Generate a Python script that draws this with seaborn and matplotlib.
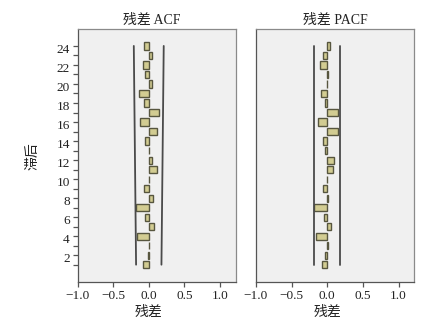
import numpy as np
import pandas as pd
import matplotlib
matplotlib.use("Agg")
import matplotlib.pyplot as plt
import matplotlib.transforms as mtransforms
import seaborn as sns

# ---- data ----
lags = list(range(1, 25))
acf_values = [-0.08, -0.015, 0.01, -0.16, 0.075, -0.047, -0.178, 0.056, -0.065, 0.01,
              0.12, 0.05, 0.004, -0.047, 0.11, -0.12, 0.145, -0.065, -0.135, 0.05,
              -0.05, -0.075, 0.042, -0.06]
pacf_values = [-0.08, -0.026, 0.015, -0.152, 0.05, -0.04, -0.18, 0.007, -0.054, -0.007,
               0.075, 0.098, -0.026, -0.058, 0.155, -0.124, 0.155, -0.03, -0.082, -0.003,
               0.007, -0.096, -0.054, 0.037]
acf_limit_lags = [1, 24]
acf_limit = [0.178, 0.21]
pacf_limit_lags = [1, 24]
pacf_limit = [0.18, 0.18]
panel_titles = ["残差 ACF", "残差 PACF"]
x_label = "残差"
y_label = "滞后"
x_ticks = [-1.0, -0.5, 0.0, 0.5, 1.0]
y_ticks = list(range(2, 25, 2))

sns.set_style("ticks")
plt.rcParams["font.family"] = ["Liberation Serif", "Noto Sans CJK SC", "DejaVu Sans"]
plt.rcParams["axes.unicode_minus"] = True

W, H = 426, 327
fig = plt.figure(figsize=(W / 100, H / 100), dpi=100)
fig.patch.set_facecolor("white")

ax1 = fig.add_axes([77.5 / W, 1 - 282 / H, 158.2 / W, (282 - 29.3) / H])
ax2 = fig.add_axes([256 / W, 1 - 282 / H, 158.2 / W, (282 - 29.3) / H])

bar_color = "#d2cc92"
edge_color = "#57563f"
line_color = "#4a4a4a"

panels = [
    (ax1, acf_values, acf_limit_lags, acf_limit, panel_titles[0]),
    (ax2, pacf_values, pacf_limit_lags, pacf_limit, panel_titles[1]),
]

for i, (ax, vals, lim_lags, lim, title) in enumerate(panels):
    ax.set_facecolor("#f0f0f0")
    df = pd.DataFrame({"lag": lags, "value": vals})
    sns.barplot(data=df, x="value", y="lag", orient="h", native_scale=True,
                width=0.75, color=bar_color, edgecolor=edge_color, linewidth=1.0,
                saturation=1, ax=ax)
    lim_df_u = pd.DataFrame({"x": lim, "y": lim_lags})
    lim_df_l = pd.DataFrame({"x": [-v for v in lim], "y": lim_lags})
    sns.lineplot(data=lim_df_u, x="x", y="y", sort=False, estimator=None,
                 color=line_color, lw=1.3, ax=ax)
    sns.lineplot(data=lim_df_l, x="x", y="y", sort=False, estimator=None,
                 color=line_color, lw=1.3, ax=ax)

    ax.set_xlim(-1.0, 1.22)
    ax.set_ylim(-0.82, 25.75)
    ax.set_xticks(x_ticks)
    ax.set_xticklabels(["−1.0", "−0.5", "0.0", "0.5", "1.0"], fontsize=9.5)
    ax.tick_params(axis="x", length=3.5, width=0.9, color="#555555", pad=2, labelcolor="#222222")
    ax.set_xlabel(x_label, fontsize=10, color="#222222", labelpad=1)
    ax.xaxis.set_label_coords(1.0 / 2.22, -0.095)
    for side in ["top", "right"]:
        ax.spines[side].set_visible(True)
        ax.spines[side].set_color("#8a8a8a")
        ax.spines[side].set_linewidth(0.9)
    for side in ["left", "bottom"]:
        ax.spines[side].set_color("#555555")
        ax.spines[side].set_linewidth(0.9)
    if i == 0:
        ax.set_title(title, fontsize=10, pad=4, x=0.47, color="#222222")
        ax.set_yticks(y_ticks)
        ax.set_yticks(lags, minor=True)
        ax.set_yticklabels([str(t) for t in y_ticks], fontsize=9.5)
        ax.tick_params(axis="y", which="both", length=3.5, width=0.9, color="#555555",
                       pad=2, labelcolor="#222222")
        offset = mtransforms.ScaledTranslation(0, -2.5 / 100, fig.dpi_scale_trans)
        for lbl in ax.get_yticklabels():
            lbl.set_transform(lbl.get_transform() + offset)
        ax.set_ylabel(y_label, fontsize=10, color="#222222", labelpad=12)
    else:
        ax.set_title(title, fontsize=10, pad=4, color="#222222")
        ax.set_yticks([])
        ax.set_ylabel("")

fig.savefig("out.png", dpi=100)
